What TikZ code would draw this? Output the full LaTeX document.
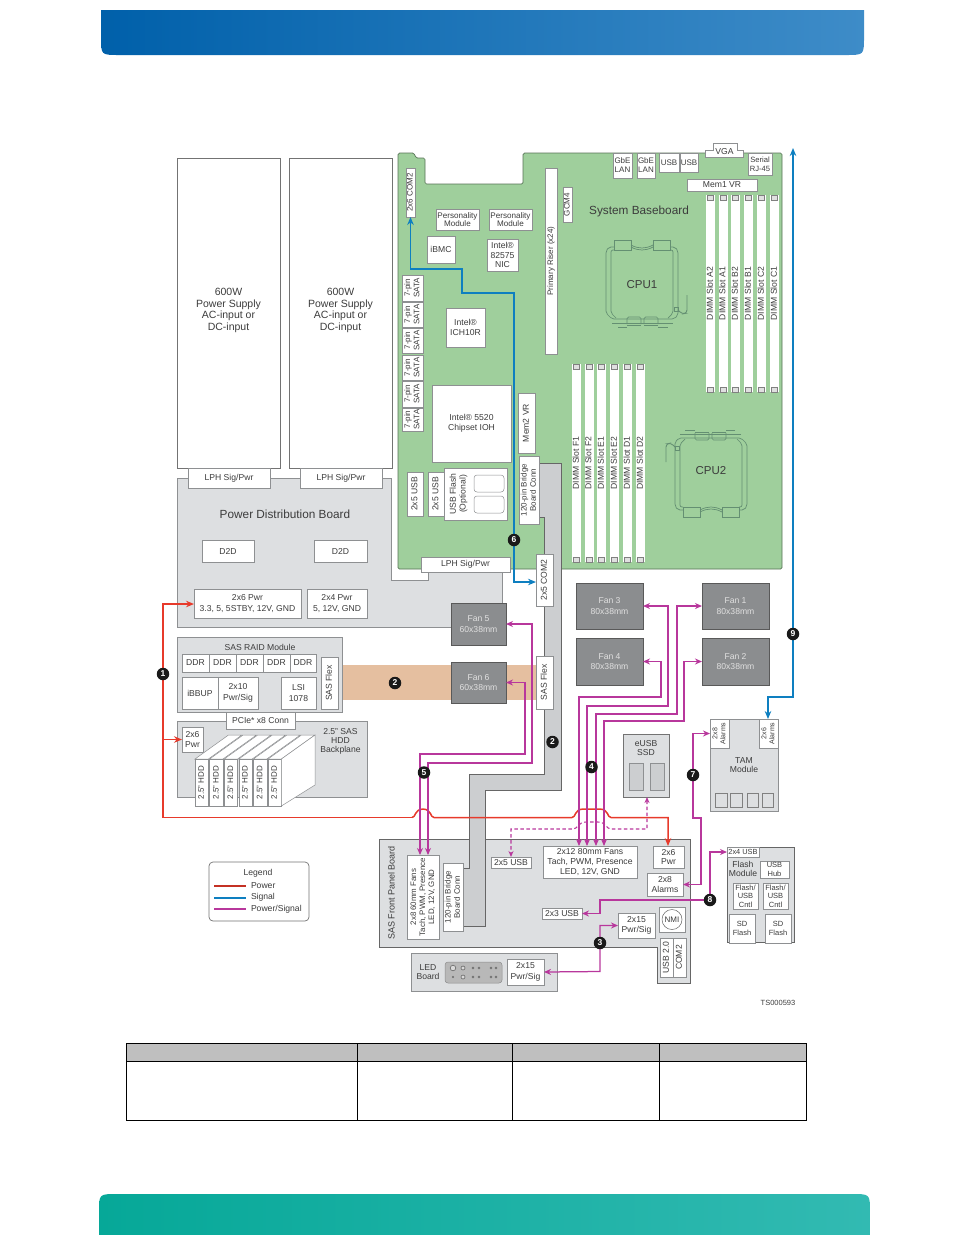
\documentclass[tikz,border=0pt]{standalone}
\usepackage{fontspec}
\usepackage{graphicx}
\setmainfont{Liberation Sans}
\usetikzlibrary{arrows.meta,calc}
\definecolor{txt}{HTML}{3C3C3C}
\definecolor{boardg}{HTML}{9FCF9C}
\definecolor{lgray}{HTML}{DDDFE1}
\definecolor{mgray}{HTML}{CCCED0}
\definecolor{edge}{HTML}{8E9092}
\definecolor{fan}{HTML}{8B8D8F}
\definecolor{pur}{HTML}{B8379C}
\definecolor{redl}{HTML}{E73A2B}
\definecolor{blu}{HTML}{0E7FC0}
\definecolor{sock}{HTML}{648F72}
\newcommand\FS[1]{\fontsize{#1}{#1}\selectfont}
\newcommand\RT[1]{\rotatebox{90}{\raisebox{-0.3em}[0pt][0pt]{\def\arraystretch{1.14}\begin{tabular}{@{}c@{}}#1\end{tabular}}}}
\newcommand\BX[6][]{\pgfmathsetmacro\bw{#5-#3}\pgfmathsetmacro\bh{#6-#4}%
  \node[bxst,minimum width=\bw pt,minimum height=\bh pt,#1] (#2) at ({(#3+#5)/2},{(#4+#6)/2}) {};}
\newcommand\BT[7][]{\pgfmathsetmacro\bw{#5-#3}\pgfmathsetmacro\bh{#6-#4}%
  \node[bxst,minimum width=\bw pt,minimum height=\bh pt,#1] (#2) at ({(#3+#5)/2},{(#4+#6)/2}) {#7};}
\newcommand\MK[4]{\node[marker] (#1) at (#2,#3) {#4};}
\newcommand\SOCK[3]{\begin{scope}[shift={(#1,#2)},rotate=#3,draw=sock,line width=0.7pt]
  \draw[rounded corners=2pt] (-28,-38) -- (-33,-38) -- (-36,-34) -- (-36,28) -- (-30,34) -- (32,34) -- (36,30) -- (36,-34) -- (33,-38) -- (28,-38);
  \draw[rounded corners=2pt] (-28,-35) -- (-31,-35) -- (-31,28) -- (-26,33);
  \draw[rounded corners=2pt] (28,-35) -- (31,-35) -- (31,28) -- (26,33);
  \draw (-28,-45) rectangle (-11,-35);
  \draw (11,-45) rectangle (28,-35);
  \draw (-11,-40) .. controls (-4,-36) and (4,-36) .. (11,-40);
  \draw (-11,-38) .. controls (-4,-34) and (4,-34) .. (11,-38);
  \draw[rounded corners=1.5pt] (-15,39) -- (-15,32) -- (-1,32) -- (-1,39);
  \draw[rounded corners=1.5pt] (2,39) -- (2,32) -- (16,32) -- (16,39);
  \draw (-30,38) -- (31,38);
  \draw (-24,42) -- (-15,42) (-15,40) -- (-1,40) (2,40) -- (16,40) (16,42) -- (26,42);
  \draw (32,22) rectangle (36,26);
  \draw[rounded corners=3pt,line width=0.9pt] (36,25) -- (40,29) -- (45,28) -- (45,10);
  \end{scope}}
\tikzset{
  bxst/.style={draw=edge,line width=0.5pt,fill=white,inner sep=0pt,outer sep=0pt,text=txt,align=center,font=\FS{8.6}},
  plain/.style={inner sep=0pt,outer sep=0pt,text=txt,align=center,font=\FS{8.6}},
  fanbx/.style={draw=black!65,line width=0.8pt,fill=fan,text=white!88!black},
  small/.style={font=\FS{8}},
  marker/.style={circle,fill=black!90,text=white,inner sep=0pt,minimum size=12.5pt,font=\FS{8.5}\bfseries},
  ps/.style={draw=pur,line width=1.25pt,{Stealth[length=7pt,width=6pt]}-{Stealth[length=7pt,width=6pt]}},
  pdash/.style={draw=pur,line width=1.05pt,dash pattern=on 3.5pt off 2.5pt,{Stealth[length=6pt,width=5pt]}-{Stealth[length=6pt,width=5pt]}},
  pw/.style={draw=redl,line width=1.5pt,-{Stealth[length=8pt,width=6.5pt]}},
  sgd/.style={draw=blu,line width=1.3pt,{Stealth[length=8pt,width=6.5pt]}-{Stealth[length=8pt,width=6.5pt]}},
}
\begin{document}
\begin{tikzpicture}[x=1pt,y=-1pt]
\useasboundingbox (0,0) rectangle (954,1235);
% header / footer
\shade[left color={rgb,255:red,0;green,96;blue,170},right color={rgb,255:red,62;green,140;blue,200}]
 (101,10) -- (864,10) -- (864,37) .. controls (864,55) and (864,55) .. (846,55) -- (119,55) .. controls (101,55) and (101,55) .. (101,37) -- cycle;
\shade[left color={rgb,255:red,6;green,168;blue,152},right color={rgb,255:red,50;green,186;blue,178}]
 (99,1235) -- (99,1212) .. controls (99,1194) and (99,1194) .. (117,1194) -- (852,1194) .. controls (870,1194) and (870,1194) .. (870,1212) -- (870,1235) -- cycle;

% baseboard
\path[fill=boardg,draw=black!45!boardg,line width=0.7pt,rounded corners=1.5pt]
 (398,569) -- (398,153) -- (414,153) -- (416,158) -- (425,158) -- (425,184) -- (523,184) -- (523,153) -- (782,153) -- (782,569) -- cycle;
% PDB
\path[fill=lgray,draw=edge,line width=0.7pt]
 (177,478) -- (391,478) -- (391,580) -- (428,580) -- (428,572) -- (502,572) -- (502,627) -- (177,627) -- cycle;
% bridge board
\path[fill=mgray,draw=black!60,line width=0.7pt]
 (539,463) -- (561,463) -- (561,790) -- (485,790) -- (485,926) -- (463,926) -- (463,868) -- (469,868) -- (469,774) -- (544,774) -- (544,517) -- (539,517) -- cycle;

% power supplies
\BX[draw=black!55]{psa}{177}{158}{280}{468}
\BX[draw=black!55]{psb}{289}{158}{392}{468}
\node[plain,font=\FS{10.5}] (psat) at (228.5,310.5) {600W\\[1.3pt]Power Supply\\[1.3pt]AC-input or\\[1.3pt]DC-input};
\node[plain,font=\FS{10.5}] (psbt) at (340.5,310.5) {600W\\[1.3pt]Power Supply\\[1.3pt]AC-input or\\[1.3pt]DC-input};
\BT{lpha}{188}{468}{270}{488}{LPH Sig/Pwr}
\BT{lphb}{300}{468}{382}{488}{LPH Sig/Pwr}
\node[plain,font=\FS{11.8}] (pdbt) at (285,514) {Power Distribution Board};
\BT{dda}{202}{540}{254}{562}{D2D}
\BT{ddb}{314}{540}{367}{562}{D2D}
\BT{pwa}{194}{589}{301}{618}{2x6 Pwr\\[1.5pt]3.3, 5, 5STBY, 12V, GND}
\BT{pwb}{307}{589}{367}{618}{2x4 Pwr\\[1.5pt]5, 12V, GND}

% board parts
\BT[small]{com}{406}{168}{415}{217}{\RT{2x6 COM2}}
\BT[font=\FS{8.1}]{pm1}{436}{209}{479}{230}{Personality\\Module}
\BT[font=\FS{8.1}]{pm2}{489}{209}{532}{230}{Personality\\Module}
\BT{ibmc}{427}{236}{455}{263}{iBMC}
\BT{nic}{487}{239}{518}{271}{Intel\textregistered\\[1pt]82575\\[1pt]NIC}
\BT[small]{sa1}{402}{275}{423}{301}{\RT{7-pin\\SATA}}
\BT[small]{sa2}{402}{302}{423}{327}{\RT{7-pin\\SATA}}
\BT[small]{sa3}{402}{328}{423}{353}{\RT{7-pin\\SATA}}
\BT[small]{sa4}{402}{355}{423}{380}{\RT{7-pin\\SATA}}
\BT[small]{sa5}{402}{381}{423}{407}{\RT{7-pin\\SATA}}
\BT[small]{sa6}{402}{408}{423}{431}{\RT{7-pin\\SATA}}
\BT{ich}{446}{308}{485}{347}{Intel\textregistered\\[1pt]ICH10R}
\BT{ioh}{432}{385}{511}{462}{Intel\textregistered\ 5520\\[1.5pt]Chipset IOH}
\BT{mem2}{518}{393}{535}{453}{\RT{Mem2 VR}}
\BT[small]{bb1}{519}{456}{539}{524}{\RT{120-pin Bridge\\Board Conn}}
\BT{us1}{407}{472}{423}{516}{\RT{2x5 USB}}
\BT{us2}{428}{472}{444}{516}{\RT{2x5 USB}}
\BX{ufb}{444}{468}{507}{520}
\node[plain] (uft) at (458.5,494) {\RT{USB Flash\\(Optional)}};
\BX[rounded corners=3pt]{uf1}{474}{475}{504}{492}
\BX[rounded corners=3pt]{uf2}{474}{496}{504}{513}
\BT[small]{riser}{545}{168}{557}{354}{\RT{Primary Riser (x24)}}
\BT[small]{gcm}{563}{187}{572}{222}{\RT{GCM4}}
\BT[small]{gb1}{613}{153}{632}{178}{GbE\\[1pt]LAN}
\BT[small]{gb2}{637}{153}{655}{178}{GbE\\[1pt]LAN}
\BT[small]{ub1}{659}{153}{679}{172}{USB}
\BT[small]{ub2}{680}{153}{698}{172}{USB}
\path[fill=white,draw=edge,line width=0.5pt] (713,143) -- (737,143) -- (737,150) -- (743,150) -- (743,157) -- (705,157) -- (705,150) -- (713,150) -- cycle;
\node[plain] (vga) at (724.5,151.5) {VGA};
\BT[font=\FS{7.6}]{ser}{748}{153}{772}{175}{Serial\\[1pt]RJ-45}
\BT{mem1}{687}{179}{757}{191}{Mem1 VR}
\BT{lphc}{421}{557}{510}{572}{LPH Sig/Pwr}
\node[plain,font=\FS{11.8}] (sbb) at (639,211) {System Baseboard};

% DIMMs
\foreach \nm/\xa/\lab in {a/706/A2,b/718.5/A1,c/731/B2,d/744/B1,e/757/C2,f/770/C1}{
  \pgfmathsetmacro\xb{\xa+9}
  \BT[draw=none]{dm\nm}{\xa}{195}{\xb}{392}{\RT{DIMM Slot \lab}}
  \draw[black!50,fill=black!12,line width=0.4pt] (\xa+1.5,195) rectangle (\xb-1.5,200);
  \draw[black!50,fill=black!12,line width=0.4pt] (\xa+1.5,387) rectangle (\xb-1.5,392);
}
\foreach \nm/\xa/\lab in {g/572/F1,h/584.5/F2,i/597/E1,j/610/E2,k/623/D1,l/636/D2}{
  \pgfmathsetmacro\xb{\xa+9}
  \node[plain,minimum width=9pt,minimum height=198pt,fill=white] (dm\nm) at (\xa+4.5,463) {};
  \node[plain] (dt\nm) at (\xa+4.5,463) {\RT{DIMM Slot \lab}};
  \draw[black!50,fill=black!12,line width=0.4pt] (\xa+1.5,364) rectangle (\xb-1.5,369);
  \draw[black!50,fill=black!12,line width=0.4pt] (\xa+1.5,557) rectangle (\xb-1.5,562);
}
\SOCK{642}{285}{0}
\SOCK{711}{472}{180}
\node[plain,font=\FS{11.5}] (cpua) at (642,285) {CPU1};
\node[plain,font=\FS{11.5}] (cpub) at (711,471) {CPU2};

% flex cables
\path[fill={rgb,255:red,229;green,191;blue,160}] (337,665) rectangle (536,700);
\BT{com2}{536}{554}{553}{606}{\RT{2x5 COM2}}
\BT{flexb}{536}{656}{553}{709}{\RT{SAS Flex}}

% fans
\BT[fanbx]{fan5}{451}{603}{506}{645}{Fan 5\\[2pt]60x38mm}
\BT[fanbx]{fan6}{451}{662}{506}{703}{Fan 6\\[2pt]60x38mm}
\BT[fanbx]{fan3}{576}{583}{643}{629}{Fan 3\\[2pt]80x38mm}
\BT[fanbx]{fan1}{702}{583}{769}{629}{Fan 1\\[2pt]80x38mm}
\BT[fanbx]{fan4}{576}{638}{643}{685}{Fan 4\\[2pt]80x38mm}
\BT[fanbx]{fan2}{702}{638}{769}{685}{Fan 2\\[2pt]80x38mm}

% SAS RAID
\BX[fill=lgray]{raid}{177}{637}{342}{712}
\node[plain] (raidt) at (260,647) {SAS RAID Module};
\BT{d1}{182}{654}{209}{672}{DDR}
\BT{d2}{209}{654}{236}{672}{DDR}
\BT{d3}{236}{654}{263}{672}{DDR}
\BT{d4}{263}{654}{290}{672}{DDR}
\BT{d5}{290}{654}{316}{672}{DDR}
\BT{bbu}{182}{677}{218}{709}{iBBUP}
\BT{p10}{218}{677}{258}{709}{2x10\\[2pt]Pwr/Sig}
\BT{lsi}{281}{677}{316}{709}{LSI\\[2pt]1078}
\BT{flexa}{321}{657}{338}{709}{\RT{SAS Flex}}

% backplane
\BX[fill=lgray]{bp}{177}{721}{367}{797}
\BT{pcie}{226}{712}{295}{729}{PCIe* x8 Conn}
\BT{bpw}{182}{727}{203}{752}{2x6\\[1.5pt]Pwr}
\node[plain] (bpt) at (340.5,741.5) {2.5" SAS\\[0.5pt]HDD\\[0.5pt]Backplane};
\foreach \i/\xa in {1/195,2/209.6,3/224.2,4/238.8,5/253.4,6/268}{
  \pgfmathsetmacro\xb{\xa+13.4}
  \draw[fill=white,draw=edge,line width=0.5pt] (\xa,759) -- (\xa+33.5,735) -- (\xb+33.5,735) -- (\xb,759) -- cycle;
  \BT[small]{hdd\i}{\xa}{759}{\xb}{806}{\RT{2.5" HDD}}
}
\draw[fill=white,draw=edge,line width=0.5pt] (281.4,759) -- (315,735) -- (315,785) -- (281.4,806) -- cycle;

% eUSB
\BX[fill=lgray,draw=black!55,line width=0.7pt]{eusb}{623}{734}{669}{797}
\node[plain] (eut) at (646,748) {eUSB\\[1pt]SSD};
\BX[fill=mgray]{eu1}{629}{763}{643}{790}
\BX[fill=mgray]{eu2}{650}{763}{664}{790}

% TAM
\BX[fill=lgray]{tam}{710}{719}{778}{811}
\BT[font=\FS{7}]{tal}{710}{719}{729}{748}{\RT{2x8\\Alarms}}
\BT[font=\FS{7}]{tar}{759}{719}{778}{748}{\RT{2x6\\Alarms}}
\node[plain] (tamt) at (744,765) {TAM\\[1pt]Module};
\foreach \i/\xa/\xb in {1/715/727,2/730/742,3/747/758,4/762/773}{\BX[fill=lgray,draw=black!50]{tq\i}{\xa}{793}{\xb}{807}}

% front panel
\path[fill=lgray,draw=black!60,line width=0.7pt] (379,839) -- (690,839) -- (690,983) -- (657,983) -- (657,947) -- (379,947) -- cycle;
\path[fill=mgray,draw=black!60,line width=0.7pt] (469,832) -- (469,868) -- (463,868) -- (463,926) -- (485,926) -- (485,832);
\path[fill=mgray] (470,830) rectangle (484.5,842);
\node[plain,font=\FS{9}] (fpt) at (392,893) {\RT{SAS Front Panel Board}};
\BT[font=\FS{7.9}]{f60}{407}{855}{439}{939}{\RT{2x8 60mm Fans\\Tach, PWM, Presence\\LED, 12V, GND}}
\BT[small]{bb2}{443}{863}{463}{931}{\RT{120-pin Bridge\\Board Conn}}
\BT{u25}{491}{857}{531}{868}{2x5 USB}
\BT{f80}{543}{846}{637}{878}{2x12 80mm Fans\\[1pt]Tach, PWM, Presence\\[1pt]LED, 12V, GND}
\BT{pw6}{653}{846}{684}{868}{2x6\\[1pt]Pwr}
\BT{al8}{647}{873}{683}{896}{2x8\\[2pt]Alarms}
\BT{u23}{542}{908}{582}{919}{2x3 USB}
\BT{p15}{618}{913}{655}{938}{2x15\\[2pt]Pwr/Sig}
\BX{nmib}{659}{907}{685}{932}
\node[draw=black!60,fill=white,circle,minimum size=20pt,inner sep=0pt,line width=0.5pt,text=txt,font=\FS{8}] (nmi) at (672,919.5) {NMI};
\BT{us20}{660}{938}{673}{977}{\RT{USB 2.0}}
\BT{com3}{673}{938}{686}{977}{\RT{COM2}}

% LED board
\BX[fill=lgray]{led}{411}{953}{557}{991}
\node[plain] (ledt) at (428,972) {LED\\[1pt]Board};
\BX[fill=black!28,rounded corners=3pt,draw=black!45]{ledp}{445}{962}{502}{983}
\foreach \px/\py/\rr in {453/968/2.8,453/977/0.7,463/968/2,463/977/2,473/968/1,479/968/1,473/977/1,479/977/1,491/968/1,496/968/1,491/977/1,496/977/1}{
  \draw[black!60,fill=black!15,line width=0.6pt] (\px,\py) circle (\rr pt);}
\BT{p15b}{507}{959}{544}{985}{2x15\\[2pt]Pwr/Sig}

% Flash module
\BX[fill=lgray,draw=black!60]{flash}{727}{847}{794}{942}
\BT[font=\FS{7.4}]{u24}{727}{847}{759}{857}{2x4 USB}
\node[plain] (flt) at (743,869) {Flash\\[1pt]Module};
\BT[font=\FS{7.5}]{hub}{760}{861}{789}{878}{USB\\[1pt]Hub}
\BT[font=\FS{7.5}]{fc1}{733}{883}{758}{909}{Flash/\\[1pt]USB\\[1pt]Cntl}
\BT[font=\FS{7.5}]{fc2}{763}{883}{788}{909}{Flash/\\[1pt]USB\\[1pt]Cntl}
\BT[font=\FS{7.5}]{sd1}{729}{914}{755}{943}{SD\\[1pt]Flash}
\BT[font=\FS{7.5}]{sd2}{765}{914}{791}{943}{SD\\[1pt]Flash}

% connectors: signal
\draw[sgd] (com2.west |- 0,582) -- (514,582) -- (514,293) -- (462,293) -- (462,269) -- (410.5,269) -- (410.5,217);
\coordinate (toptip) at (793,148);
\draw[sgd] (toptip) -- (793,697) -- (768,697) -- (768,719);
% power
\draw[pw] (412,817.5) .. controls (416,817.5) and (414,809.5) .. (423,809) .. controls (432,809.5) and (430,817.5) .. (434,817.5) -- (572,817.5) .. controls (576,817.5) and (574,809.5) .. (583,809) -- (600,809) .. controls (609,809.5) and (607,817.5) .. (611,817.5) -- (668,817.5) -- (668,846);
\draw[pw] (412,817.5) -- (163,817.5) -- (163,604) -- (pwa.west |- 0,604);
\draw[pw] (163,739.5) -- (bpw.west);
% power/signal
\draw[ps] (fan5.east) -- (532,624) -- (532,763) -- (428,763) -- (428,855);
\draw[ps] (fan6.east) -- (525,682.5) -- (525,754) -- (420,754) -- (420,855);
\draw[ps] (fan4.east) -- (661,661.5) -- (661,697) -- (579,697) -- (579,846);
\draw[ps] (fan3.east) -- (668,606) -- (668,706) -- (587,706) -- (587,846);
\draw[ps] (fan1.west) -- (677,606) -- (677,714) -- (596,714) -- (596,846);
\draw[ps] (fan2.west) -- (684,661.5) -- (684,721) -- (604,721) -- (604,846);
\draw[pdash] (647,797) -- (647,829) -- (611,829) .. controls (606,829) and (606,822) .. (598,822) -- (586,822) .. controls (578,822) and (578,829) .. (573,829) -- (511,829) -- (511,857);
\draw[ps] (tal.west) -- (693,733.5) -- (693,818) -- (701,818) -- (701,884.5) -- (al8.east);
\draw[ps] (u24.west) -- (710,852) -- (710,900) -- (600,900) -- (600,913.5) -- (u23.east);
\draw[ps] (p15.west) -- (600,925.5) -- (600,971.5) -- (p15b.east);
% markers
\MK{m1}{163}{674}{1}
\MK{m2a}{395}{683}{2}
\MK{m2b}{552.5}{742}{2}
\MK{m3}{600}{943}{3}
\MK{m4}{591.5}{767}{4}
\MK{m5}{424}{772.5}{5}
\MK{m6}{514}{540}{6}
\MK{m7}{693}{775}{7}
\MK{m8}{710}{900}{8}
\MK{m9}{793}{634}{9}

% legend
\node[draw=black!55,line width=0.7pt,rounded corners=4pt,fill=white,minimum width=100pt,minimum height=59pt,inner sep=0pt] (lgd) at (259,891.5) {};
\node[plain] (lgt) at (258,873) {Legend};
\coordinate (l1a) at (214,886); \coordinate (l1b) at (246,886);
\coordinate (l2a) at (214,898); \coordinate (l2b) at (246,898);
\coordinate (l3a) at (214,909); \coordinate (l3b) at (246,909);
\draw[redl!85!black,line width=1.2pt] (l1a) -- (l1b);
\draw[blu,line width=1.2pt] (l2a) -- (l2b);
\draw[pur,line width=1.2pt] (l3a) -- (l3b);
\node[plain,anchor=west] (lp1) at (251,885.5) {Power};
\node[plain,anchor=west] (lp2) at (251,897.5) {Signal};
\node[plain,anchor=west] (lp3) at (251,909.5) {Power/Signal};
\node[plain,font=\FS{7.5}] (ts) at (778,1003) {TS000593};

% table
\path[fill=black!25] (126.5,1043.5) rectangle (806,1061);
\draw[black,line width=1pt] (126.5,1043.5) rectangle (806,1120);
\draw[black,line width=1pt] (126.5,1061) -- (806,1061);
\foreach \cx in {357.5,512.5,659.5}{\draw[black,line width=1pt] (\cx,1043.5) -- (\cx,1120);}
\end{tikzpicture}
\end{document}
